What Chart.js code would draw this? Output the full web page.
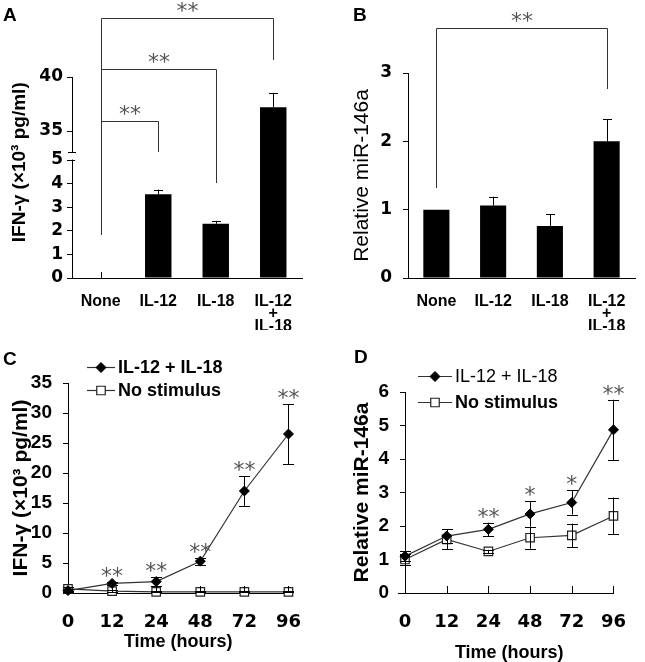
<!DOCTYPE html>
<html>
<head>
<meta charset="utf-8">
<script src="https://cdn.jsdelivr.net/npm/chart.js@4.4.0/dist/chart.umd.min.js"></script>
<style>
  body { margin: 0; background: #fff; }
  #wrap { position: relative; width: 645px; height: 662px; overflow: hidden; }
  canvas { position: absolute; }
  .tag { position: absolute; font: bold 19px "Liberation Sans", Arial, sans-serif; line-height: 19px; color: #000; }
</style>
</head>
<body>
<div id="wrap">
  <canvas id="cA" width="320" height="330" style="left:0;top:0"></canvas>
  <canvas id="cB" width="325" height="330" style="left:320px;top:0"></canvas>
  <canvas id="cC" width="320" height="332" style="left:0;top:330px"></canvas>
  <canvas id="cD" width="325" height="332" style="left:320px;top:330px"></canvas>
  <div class="tag" style="left:3px;top:5px">A</div>
  <div class="tag" style="left:353px;top:5px">B</div>
  <div class="tag" style="left:3px;top:349px">C</div>
  <div class="tag" style="left:354px;top:347px">D</div>
</div>
<script>
// bar panels (A, B)
const barCategories = ['None', 'IL-12', 'IL-18', ['IL-12', '+', 'IL-18']];
const ifnBars = [0, 3.55, 2.3, 37.2];
const ifnBarErr = [0.25, 0.2, 0.12, 1.3];
const ifnTicks = [0, 1, 2, 3, 4, 5, 35, 40];
const ifnBreak = [5, 35];
const mirBars = [1.0, 1.06, 0.76, 2.0];
const mirBarErr = [0, 0.13, 0.17, 0.32];

// time course panels (C, D)
const timeLabels = ['0', '12', '24', '48', '72', '96'];
const ifnStim = [0.4, 1.6, 1.9, 5.3, 17.0, 26.5];
const ifnStimErr = [0.3, 0.3, 0.8, 0.6, 2.5, 5.0];
const ifnNone = [0.7, 0.3, 0.2, 0.2, 0.2, 0.2];
const ifnNoneErr = [0.3, 0.2, 0.1, 0.1, 0.1, 0.1];
const mirStim = [1.1, 1.7, 1.9, 2.36, 2.7, 4.87];
const mirStimErr = [0.15, 0.2, 0.2, 0.38, 0.36, 0.9];
const mirNone = [1.0, 1.6, 1.24, 1.65, 1.72, 2.3];
const mirNoneErr = [0.15, 0.3, 0.05, 0.33, 0.35, 0.55];
const starsC = ['', '**', '**', '**', '**', '**'];
const starsD = ['', '', '**', '*', '*', '**'];

const FONT = '"Liberation Sans", Arial, sans-serif';
const TICKFONT = '"DejaVu Sans", sans-serif';

// y scale with a break between 5 and 35 (panel A)
const BREAK_FRAC = [0.587, 0.731];
class BrokenLinearScale extends Chart.LinearScale {
    static id = 'brokenLinear';
    static defaults = Chart.LinearScale.defaults;
    buildTicks() {
        return ifnTicks.map(v => ({ value: v }));
    }
    toDecimal(v) {
        const [lo, hi] = ifnBreak;
        const [fLo, fHi] = BREAK_FRAC;
        if (v <= lo) return (v - this.min) / (lo - this.min) * fLo;
        if (v >= hi) return fHi + (v - hi) / (this.max - hi) * (1 - fHi);
        return fLo + (v - lo) / (hi - lo) * (fHi - fLo);
    }
    getPixelForValue(v) {
        return v === null ? NaN : this.getPixelForDecimal(this.toDecimal(v));
    }
    getValueForPixel(p) {
        const d = this.getDecimalForPixel(p);
        const [lo, hi] = ifnBreak;
        const [fLo, fHi] = BREAK_FRAC;
        if (d <= fLo) return this.min + d / fLo * (lo - this.min);
        if (d >= fHi) return hi + (d - fHi) / (1 - fHi) * (this.max - hi);
        return lo + (d - fLo) / (fHi - fLo) * (hi - lo);
    }
}
Chart.register(BrokenLinearScale);

function drawStars(ctx, text, cx, cy) {
    ctx.save();
    ctx.font = '22px ' + TICKFONT;
    ctx.fillStyle = '#555';
    ctx.textAlign = 'center';
    ctx.textBaseline = 'alphabetic';
    const m = ctx.measureText(text);
    const off = (m.actualBoundingBoxAscent - m.actualBoundingBoxDescent) / 2;
    ctx.fillText(text, cx, cy + off);
    ctx.restore();
}

function errorBars(upperOnly, cap) {
    return {
        id: 'errorBars',
        afterDatasetsDraw(chart) {
            const { ctx } = chart;
            const y = chart.scales.y;
            chart.data.datasets.forEach((ds, di) => {
                if (!ds.errors) return;
                const meta = chart.getDatasetMeta(di);
                ctx.save();
                ctx.strokeStyle = '#000';
                ctx.lineWidth = 1;
                meta.data.forEach((el, i) => {
                    const v = ds.data[i], e = ds.errors[i];
                    if (!e) return;
                    const x = Math.round(el.x) + 0.5;
                    const top = y.getPixelForValue(v + e);
                    const bot = upperOnly ? y.getPixelForValue(v) : y.getPixelForValue(v - e);
                    ctx.beginPath();
                    ctx.moveTo(x, top);
                    ctx.lineTo(x, bot);
                    if (v > 0) {
                        ctx.moveTo(x - cap, Math.round(top) + 0.5);
                        ctx.lineTo(x + cap, Math.round(top) + 0.5);
                    }
                    if (!upperOnly) {
                        ctx.moveTo(x - cap, Math.round(bot) + 0.5);
                        ctx.lineTo(x + cap, Math.round(bot) + 0.5);
                    }
                    ctx.stroke();
                });
                ctx.restore();
            });
        }
    };
}

// significance brackets above bar panels (tops given in canvas pixels)
function brackets(list) {
    return {
        id: 'brackets',
        afterDraw(chart) {
            const { ctx } = chart;
            const x = chart.scales.x;
            ctx.save();
            ctx.strokeStyle = '#333';
            ctx.lineWidth = 1;
            list.forEach(b => {
                const x1 = Math.round(x.getPixelForValue(b.from)) + 0.5;
                const x2 = Math.round(x.getPixelForValue(b.to)) + 0.5;
                const t = b.top + 0.5;
                ctx.beginPath();
                ctx.moveTo(x1, b.leftBottom);
                ctx.lineTo(x1, t);
                ctx.lineTo(x2, t);
                ctx.lineTo(x2, b.rightBottom);
                ctx.stroke();
                drawStars(ctx, '**', (x1 + x2) / 2, b.top - 11);
            });
            ctx.restore();
        }
    };
}

const axisBreak = {
    id: 'axisBreak',
    afterDraw(chart) {
        const { ctx } = chart;
        const y = chart.scales.y;
        const ax = chart.chartArea.left;
        const p = Math.round(y.getPixelForValue(ifnBreak[0]));
        ctx.save();
        ctx.fillStyle = '#fff';
        ctx.fillRect(ax - 2, p - 8, 4, 7.5);
        ctx.strokeStyle = '#000';
        ctx.lineWidth = 1;
        ctx.beginPath();
        ctx.moveTo(ax - 4, p - 8 + 0.5);
        ctx.lineTo(ax + 4, p - 8 + 0.5);
        ctx.moveTo(ax - 5, p + 0.5);
        ctx.lineTo(ax + 3, p + 0.5);
        ctx.stroke();
        ctx.restore();
    }
};

function starsPlugin(stars) {
    return {
        id: 'stars',
        afterDraw(chart) {
            const ds = chart.data.datasets[0];
            const meta = chart.getDatasetMeta(0);
            const y = chart.scales.y;
            meta.data.forEach((el, i) => {
                if (!stars[i]) return;
                const top = y.getPixelForValue(ds.data[i] + ds.errors[i]);
                drawStars(chart.ctx, stars[i], el.x, top - 10);
            });
        }
    };
}

function innerTicks(extendLeft) {
    return {
        id: 'innerTicks',
        afterDraw(chart) {
            const { ctx, chartArea } = chart;
            const x = chart.scales.x;
            ctx.save();
            ctx.strokeStyle = '#000';
            ctx.lineWidth = 1;
            ctx.beginPath();
            x.ticks.forEach((t, i) => {
                const px = Math.round(x.getPixelForTick(i)) + 0.5;
                ctx.moveTo(px, chartArea.bottom);
                ctx.lineTo(px, chartArea.bottom - 7);
            });
            if (extendLeft) {
                ctx.moveTo(chartArea.left - extendLeft, chartArea.bottom + 0.5);
                ctx.lineTo(chartArea.left, chartArea.bottom + 0.5);
            }
            ctx.stroke();
            ctx.restore();
        }
    };
}

function lineLegend(items) {
    return {
        id: 'lineLegend',
        afterDraw(chart) {
            const { ctx } = chart;
            items.forEach(it => {
                const ds = chart.data.datasets[it.ds];
                ctx.save();
                ctx.strokeStyle = '#333';
                ctx.lineWidth = 1.2;
                ctx.beginPath();
                ctx.moveTo(it.x1, it.y + 0.5);
                ctx.lineTo(it.x2, it.y + 0.5);
                ctx.stroke();
                ctx.fillStyle = ds.pointBackgroundColor;
                ctx.strokeStyle = ds.pointBorderColor;
                ctx.lineWidth = ds.pointBorderWidth || 1;
                Chart.helpers.drawPoint(ctx, { pointStyle: ds.pointStyle, radius: ds.pointRadius, borderWidth: ds.pointBorderWidth || 1, rotation: 0 }, (it.x1 + it.x2) / 2, it.y + 0.5);
                ctx.fillStyle = '#000';
                ctx.font = it.font;
                ctx.textAlign = 'left';
                ctx.textBaseline = 'middle';
                ctx.fillText(ds.label, it.x2 + 3, it.y + 1);
                ctx.restore();
            });
        }
    };
}

function barChart(id, values, errors, yScale, pad, yWidth, plugins) {
    return new Chart(document.getElementById(id), {
        type: 'bar',
        data: {
            labels: barCategories,
            datasets: [{
                data: values,
                errors: errors,
                backgroundColor: '#000',
                barPercentage: 0.46,
                categoryPercentage: 1,
            }],
        },
        options: {
            responsive: false,
            animation: false,
            layout: { padding: pad },
            plugins: { legend: { display: false }, tooltip: { enabled: false } },
            scales: {
                x: {
                    grid: { display: false, drawTicks: false },
                    border: { color: '#000' },
                    ticks: {
                        color: '#000', padding: 17, autoSkip: false, maxRotation: 0,
                        font: { family: FONT, size: 16, weight: 'bold', lineHeight: 0.78 },
                    },
                    afterFit: (s) => { s.height = 52; },
                },
                y: Object.assign({
                    grid: { drawOnChartArea: false, color: '#000', tickLength: 5 },
                    border: { color: '#000' },
                    afterFit: (s) => { s.width = yWidth; },
                }, yScale),
            },
        },
        plugins: [errorBars(true, 4.5)].concat(plugins),
    });
}

function lineChart(id, stim, stimErr, none, noneErr, yScale, pad, yWidth, xTitle, plugins) {
    return new Chart(document.getElementById(id), {
        type: 'line',
        data: {
            labels: timeLabels,
            datasets: [
                {
                    label: 'IL-12 + IL-18', data: stim, errors: stimErr,
                    borderColor: '#333', borderWidth: 1.2, clip: false,
                    pointStyle: 'rectRot', pointRadius: 5, pointBorderWidth: 1,
                    pointBackgroundColor: '#000', pointBorderColor: '#000',
                },
                {
                    label: 'No stimulus', data: none, errors: noneErr,
                    borderColor: '#333', borderWidth: 1.2, clip: false,
                    pointStyle: 'rect', pointRadius: 6, pointBorderWidth: 1.2,
                    pointBackgroundColor: '#fff', pointBorderColor: '#222',
                },
            ],
        },
        options: {
            responsive: false,
            animation: false,
            layout: { padding: pad },
            plugins: { legend: { display: false }, tooltip: { enabled: false } },
            scales: {
                x: {
                    grid: { display: false, drawTicks: false },
                    border: { color: '#000' },
                    ticks: { color: '#000', padding: 19, autoSkip: false, maxRotation: 0,
                             font: { family: TICKFONT, size: 18, weight: 'bold' } },
                    title: Object.assign({ display: true, text: 'Time (hours)', color: '#000' }, xTitle),
                    afterFit: (s) => { s.height = 69; },
                },
                y: Object.assign({
                    grid: { drawOnChartArea: false, color: '#000', tickLength: 5 },
                    border: { color: '#000' },
                    afterFit: (s) => { s.width = yWidth; },
                }, yScale),
            },
        },
        plugins: [errorBars(false, 5.5), starsPlugin(plugins.stars), innerTicks(plugins.extendLeft), lineLegend(plugins.legend)],
    });
}

// A
barChart('cA', ifnBars, ifnBarErr, {
    type: 'brokenLinear', min: 0, max: 40,
    ticks: { color: '#000', padding: 4, font: { family: TICKFONT, size: 17, weight: 'bold' } },
    title: { display: true, text: 'IFN-γ (×10³ pg/ml) ', align: 'end', color: '#000', padding: { top: 8 },
             font: { family: FONT, size: 19, weight: 'bold' } },
}, { top: 77, right: 18, left: 0, bottom: 0 }, 72, [
    axisBreak,
    brackets([
        { from: 0, to: 3, top: 18, leftBottom: 235, rightBottom: 60 },
        { from: 0, to: 2, top: 69, leftBottom: 235, rightBottom: 183 },
        { from: 0, to: 1, top: 121, leftBottom: 235, rightBottom: 152 },
    ]),
]);

// B
barChart('cB', mirBars, mirBarErr, {
    min: 0, max: 3,
    ticks: { color: '#000', padding: 11, stepSize: 1, font: { family: TICKFONT, size: 17, weight: 'bold' } },
    title: { display: true, text: 'Relative miR-146a', color: '#000', padding: { top: 30 },
             font: { family: FONT, size: 21 } },
}, { top: 73, right: 10, left: 0, bottom: 0 }, 88, [
    brackets([{ from: 0, to: 3, top: 28, leftBottom: 188, rightBottom: 89 }]),
]);

// C
lineChart('cC', ifnStim, ifnStimErr, ifnNone, ifnNoneErr, {
    min: 0, max: 35,
    ticks: { color: '#000', padding: 11, stepSize: 5, font: { family: FONT, size: 19, weight: 'bold' } },
    title: { display: true, text: 'IFN-γ (×10³ pg/ml)', color: '#000', padding: { top: 9 },
             font: { family: FONT, size: 21, weight: 'bold' } },
}, { top: 53, right: 29, left: 0, bottom: 0 }, 68,
{ font: { family: FONT, size: 18, weight: 'bold' }, padding: { top: 0, bottom: 9 } },
{
    stars: starsC, extendLeft: 0,
    legend: [
        { ds: 0, x1: 87, x2: 115, y: 37, font: 'bold 18px ' + FONT },
        { ds: 1, x1: 87, x2: 115, y: 60, font: 'bold 18px ' + FONT },
    ],
});

// D
lineChart('cD', mirStim, mirStimErr, mirNone, mirNoneErr, {
    min: 0, max: 6,
    ticks: { color: '#000', padding: 11, stepSize: 1, font: { family: FONT, size: 19, weight: 'bold' } },
    title: { display: true, text: 'Relative miR-146a', color: '#000', padding: { top: 30 },
             font: { family: FONT, size: 21, weight: 'bold' } },
}, { top: 62, right: 13, left: 0, bottom: 0 }, 85,
{ font: { family: FONT, size: 18, weight: 'bold', lineHeight: 1 }, padding: { top: 0, bottom: 0 } },
{
    stars: starsD, extendLeft: 7,
    legend: [
        { ds: 0, x1: 98, x2: 132, y: 46, font: '18px ' + FONT },
        { ds: 1, x1: 98, x2: 132, y: 72, font: 'bold 18px ' + FONT },
    ],
});
</script>
</body>
</html>
